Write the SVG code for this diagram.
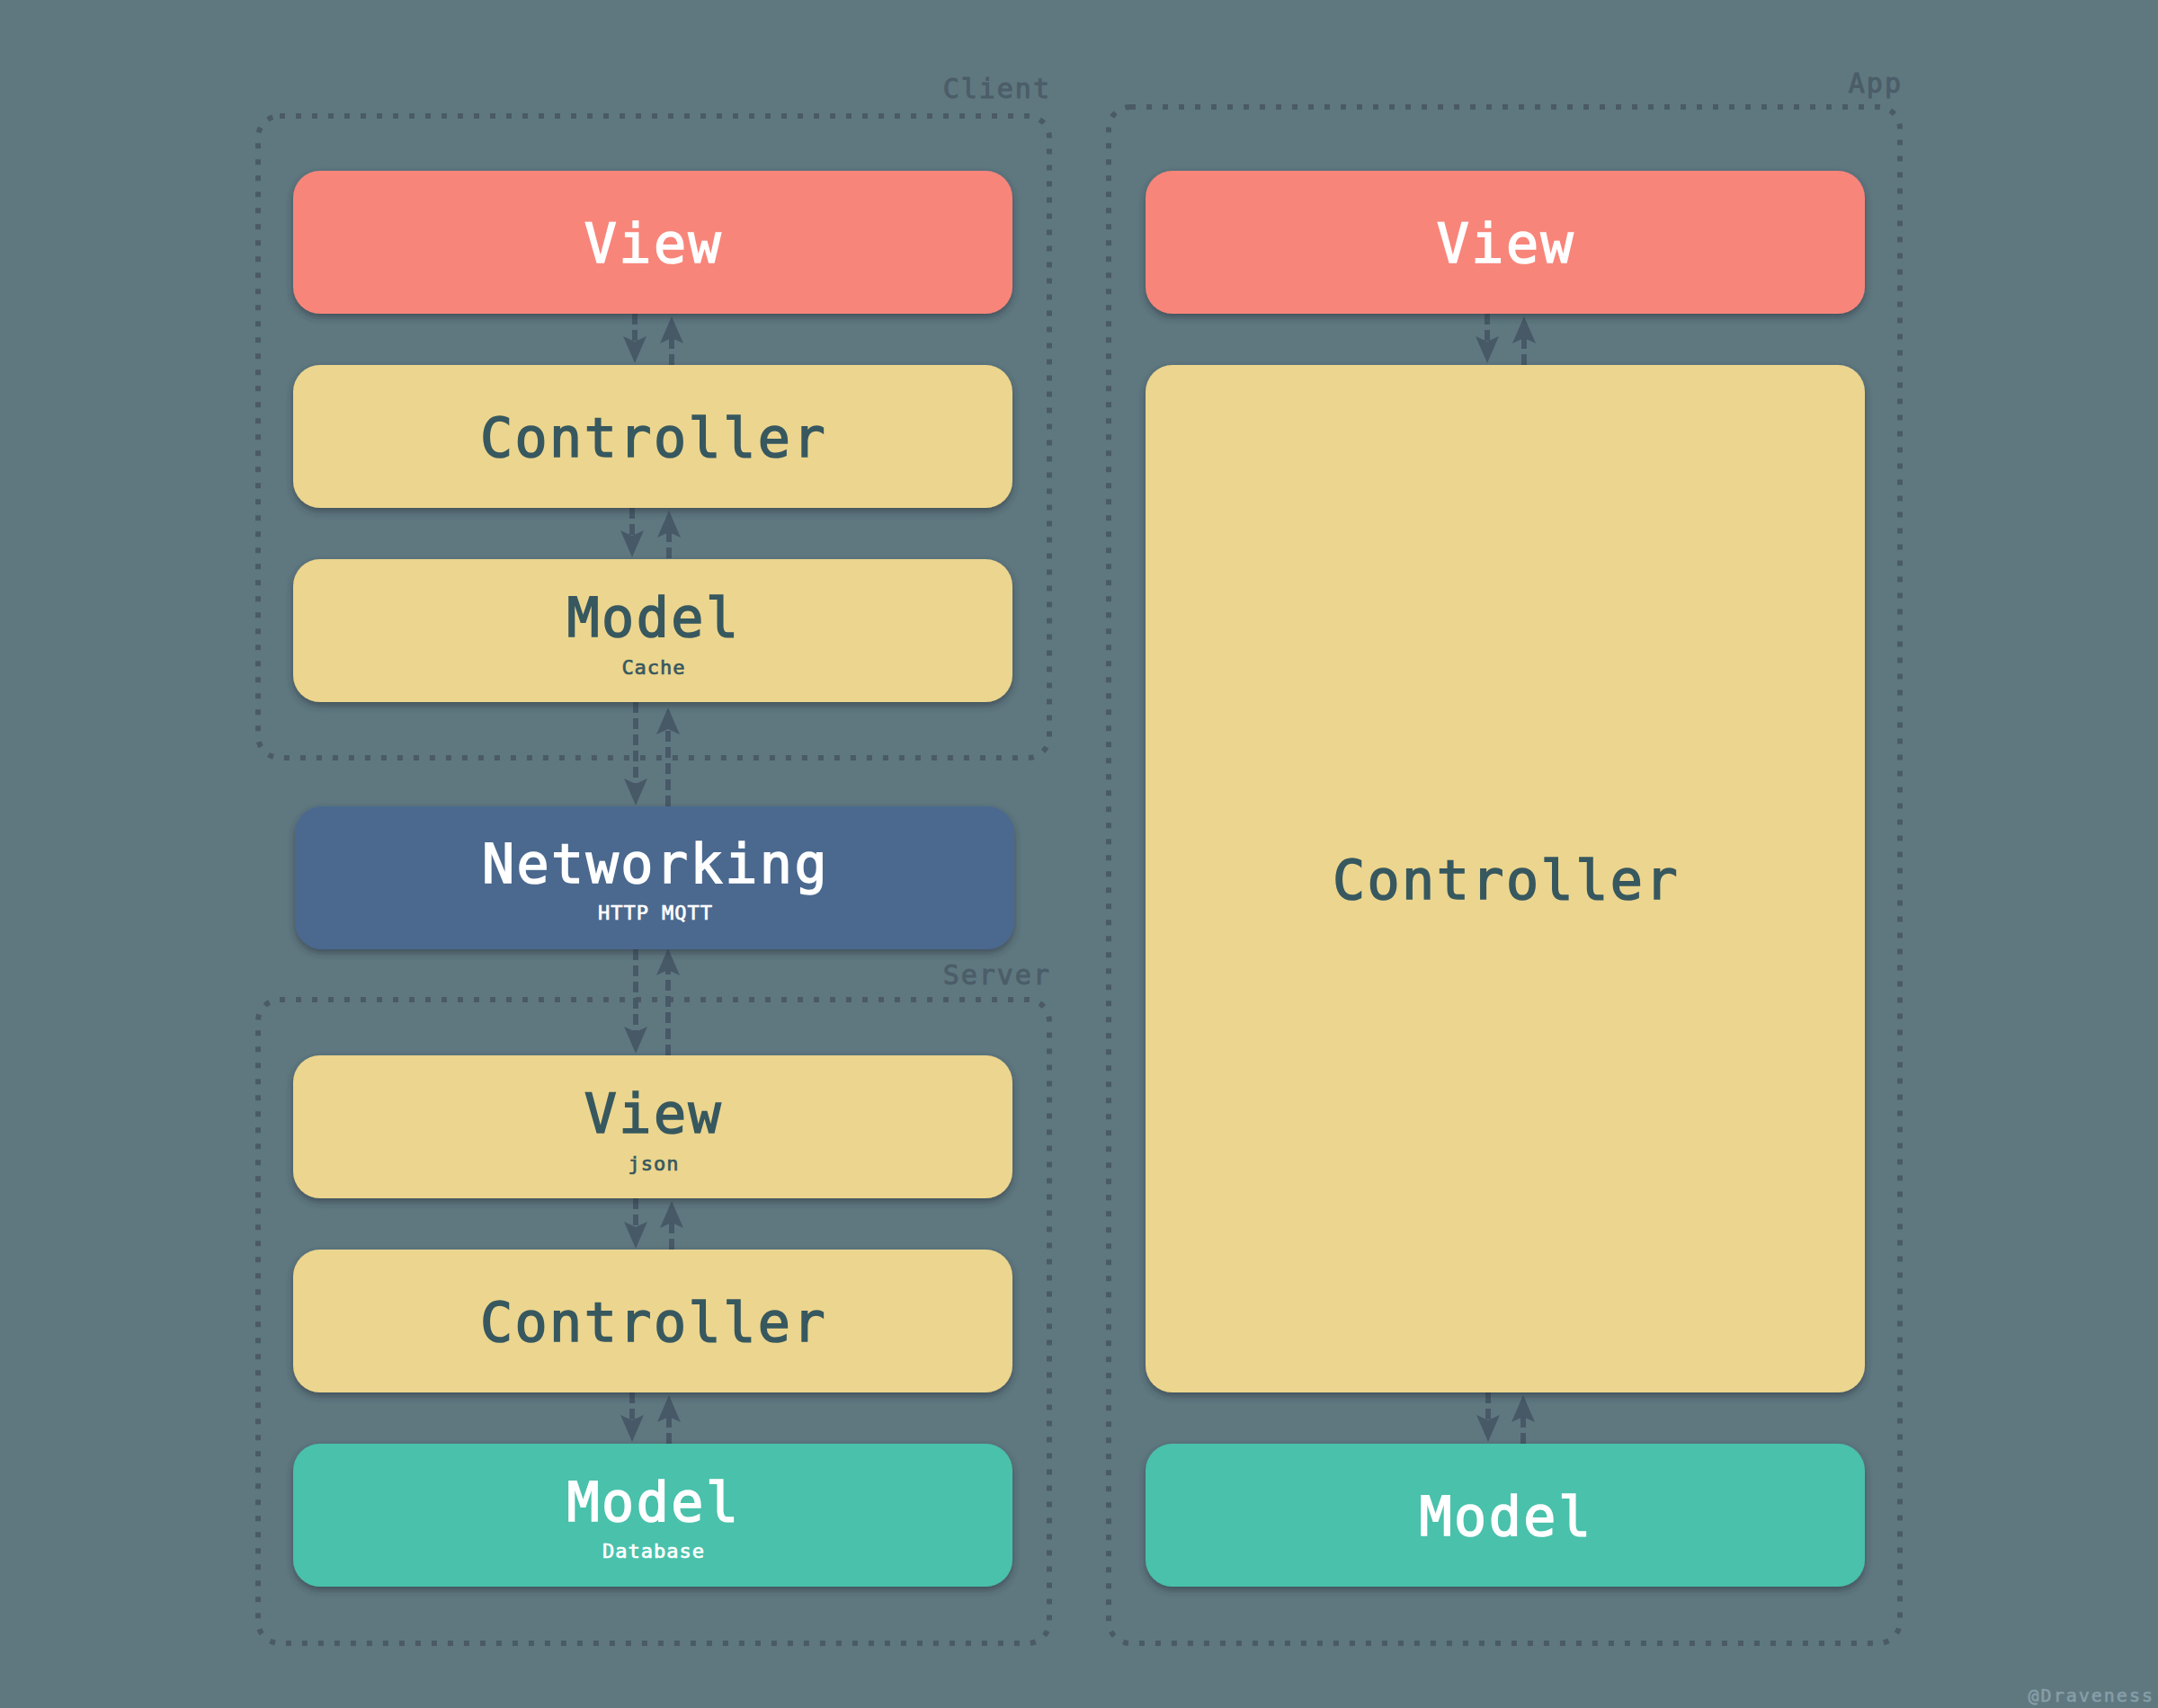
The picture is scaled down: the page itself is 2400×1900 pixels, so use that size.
<svg xmlns="http://www.w3.org/2000/svg" width="2400" height="1900" viewBox="0 0 2400 1900">
  <defs>
    <filter id="shadow" x="-10%" y="-20%" width="120%" height="150%">
      <feDropShadow dx="0" dy="4" stdDeviation="4" flood-color="#25333b" flood-opacity="0.55"/>
    </filter>
    <marker id="arrow" markerUnits="userSpaceOnUse" markerWidth="32" markerHeight="26" viewBox="0 0 32 26" refX="6" refY="13" orient="auto">
      <path d="M0,0 L30,13 L0,26 L6,13 Z" fill="#475967"/>
    </marker>
    <style>
      .group { fill: none; stroke: #4a5b66; stroke-width: 6; stroke-dasharray: 6 12; }
      .glabel { font-family: "DejaVu Sans Mono", "Liberation Mono", monospace; font-size: 30px; letter-spacing: 2px; fill: #4b5d68; stroke: #4b5d68; stroke-width: 1; text-anchor: end; }
      .box { filter: url(#shadow); }
      .red { fill: #f8857a; }
      .yellow { fill: #ecd58e; }
      .teal { fill: #4ac1ab; }
      .blue { fill: #4b698f; }
      .title { font-family: "DejaVu Sans Mono", "Liberation Mono", monospace; font-size: 60px; letter-spacing: 2.5px; text-anchor: middle; stroke-width: 1.6; }
      .sub { font-family: "DejaVu Sans Mono", "Liberation Mono", monospace; font-size: 22px; letter-spacing: 1px; text-anchor: middle; stroke-width: 0.7; }
      .light { fill: #ffffff; stroke: #ffffff; }
      .dark { fill: #37585f; stroke: #37585f; }
      .conn line { stroke: #475967; stroke-width: 6; stroke-dasharray: 12 6; marker-end: url(#arrow); }
      .credit { font-family: "DejaVu Sans Mono", "Liberation Mono", monospace; font-size: 20px; letter-spacing: 2px; fill: #879ea7; stroke: #879ea7; stroke-width: 0.6; text-anchor: end; }
    </style>
  </defs>

  <rect x="0" y="0" width="2400" height="1900" fill="#5f7880"/>

  <!-- group containers -->
  <g id="client-group">
    <rect class="group" x="287" y="129" width="880" height="714" rx="24"/>
    <text class="glabel" x="1169" y="109">Client</text>
  </g>
  <g id="server-group">
    <rect class="group" x="287" y="1112" width="880" height="716" rx="24"/>
    <text class="glabel" x="1169" y="1095">Server</text>
  </g>
  <g id="app-group">
    <rect class="group" x="1233" y="119" width="880" height="1709" rx="24"/>
    <text class="glabel" x="2116" y="103">App</text>
  </g>

  <!-- connectors -->
  <g id="connectors" class="conn">
    <line x1="706" y1="349" x2="706" y2="380"/>
    <line x1="747" y1="406" x2="747" y2="376"/>
    <line x1="703" y1="565" x2="703" y2="596"/>
    <line x1="744" y1="621" x2="744" y2="592"/>
    <line x1="707" y1="781" x2="707" y2="872"/>
    <line x1="743" y1="897" x2="743" y2="811"/>
    <line x1="707" y1="1056" x2="707" y2="1148"/>
    <line x1="743" y1="1174" x2="743" y2="1079"/>
    <line x1="707" y1="1333" x2="707" y2="1365"/>
    <line x1="747" y1="1390" x2="747" y2="1360"/>
    <line x1="703" y1="1549" x2="703" y2="1580"/>
    <line x1="744" y1="1606" x2="744" y2="1576"/>
    <line x1="1654" y1="349" x2="1654" y2="380"/>
    <line x1="1695" y1="406" x2="1695" y2="376"/>
    <line x1="1655" y1="1549" x2="1655" y2="1580"/>
    <line x1="1694" y1="1606" x2="1694" y2="1576"/>
  </g>

  <!-- client nodes -->
  <g id="client-view">
    <rect class="box red" x="326" y="190" width="800" height="159" rx="30"/>
    <text class="title light" x="727" y="292">View</text>
  </g>
  <g id="client-controller">
    <rect class="box yellow" x="326" y="406" width="800" height="159" rx="30"/>
    <text class="title dark" x="727" y="508">Controller</text>
  </g>
  <g id="client-model">
    <rect class="box yellow" x="326" y="622" width="800" height="159" rx="30"/>
    <text class="title dark" x="727" y="708">Model</text>
    <text class="sub dark" x="727" y="750">Cache</text>
  </g>

  <g id="networking">
    <rect class="box blue" x="328" y="897" width="800" height="159" rx="30"/>
    <text class="title light" x="729" y="982">Networking</text>
    <text class="sub light" x="729" y="1023">HTTP MQTT</text>
  </g>

  <!-- server nodes -->
  <g id="server-view">
    <rect class="box yellow" x="326" y="1174" width="800" height="159" rx="30"/>
    <text class="title dark" x="727" y="1260">View</text>
    <text class="sub dark" x="727" y="1302">json</text>
  </g>
  <g id="server-controller">
    <rect class="box yellow" x="326" y="1390" width="800" height="159" rx="30"/>
    <text class="title dark" x="727" y="1492">Controller</text>
  </g>
  <g id="server-model">
    <rect class="box teal" x="326" y="1606" width="800" height="159" rx="30"/>
    <text class="title light" x="727" y="1692">Model</text>
    <text class="sub light" x="727" y="1733">Database</text>
  </g>

  <!-- app nodes -->
  <g id="app-view">
    <rect class="box red" x="1274" y="190" width="800" height="159" rx="30"/>
    <text class="title light" x="1675" y="292">View</text>
  </g>
  <g id="app-controller">
    <rect class="box yellow" x="1274" y="406" width="800" height="1143" rx="30"/>
    <text class="title dark" x="1675" y="1000">Controller</text>
  </g>
  <g id="app-model">
    <rect class="box teal" x="1274" y="1606" width="800" height="159" rx="30"/>
    <text class="title light" x="1675" y="1708">Model</text>
  </g>

  <text class="credit" x="2396" y="1893">@Draveness</text>
</svg>
